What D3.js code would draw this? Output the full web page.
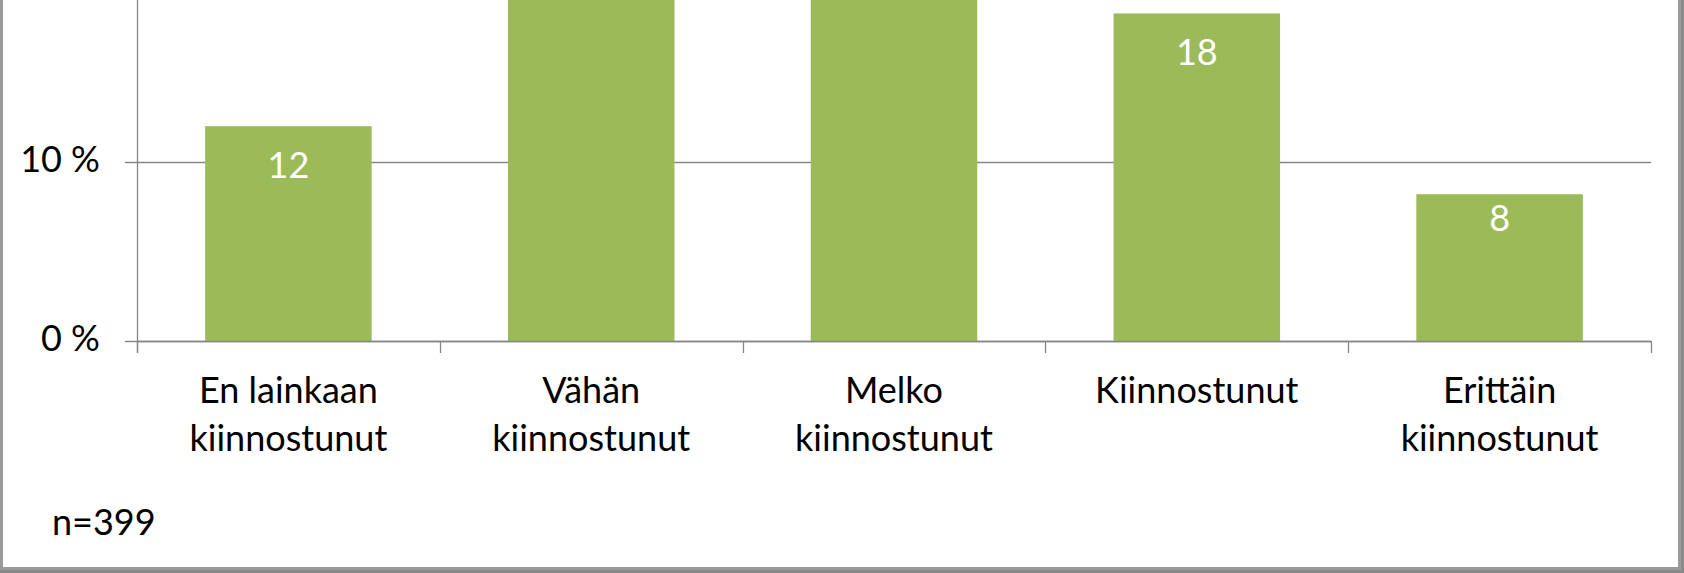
<!DOCTYPE html>
<html>
<head>
<meta charset="utf-8">
<script src="https://cdn.jsdelivr.net/npm/d3@7"></script>
<style>
  html, body { margin: 0; padding: 0; background: #fff; }
  svg { display: block; }
</style>
</head>
<body>
<svg id="chart" width="1684" height="573"></svg>
<script>
// ---- data ----
const categories = ["En lainkaan\nkiinnostunut", "Vähän\nkiinnostunut", "Melko\nkiinnostunut", "Kiinnostunut", "Erittäin\nkiinnostunut"];
const values = [12.0, 30.0, 32.0, 18.3, 8.2];
const valueLabels = ["12", "30", "32", "18", "8"];
const yTicks = [0, 10, 20, 30, 40];
const yTickLabels = ["0 %", "10 %", "20 %", "30 %", "40 %"];
const note = "n=399";

// ---- layout ----
const W = 1684, H = 573;
const svg = d3.select("#chart");
const FONT = "Lato, 'Open Sans', 'Liberation Sans', sans-serif";

const probe = svg.append("text").attr("font-family", FONT).attr("font-size", 36).text("kiinnostunut");
const w36 = probe.node().getComputedTextLength();
probe.remove();
const fs = Math.max(28, Math.min(38, 36 * 198 / w36));

const plot = { left: 137, right: 1651, bottom: 341 };
const pxPerUnit = 17.9;
const x = d3.scaleBand().domain(d3.range(categories.length)).range([plot.left, plot.right]).paddingInner(0.45).paddingOuter(0.225);
const y = d3.scaleLinear().domain([0, 40]).range([plot.bottom, plot.bottom - 40 * pxPerUnit]);

const axisColor = "#868686";
const g = svg.append("g");

// gridlines
g.selectAll("line.grid").data(yTicks).join("line")
  .attr("class", "grid")
  .attr("x1", plot.left - 12).attr("x2", plot.right)
  .attr("y1", d => Math.round(y(d)) + 0.5).attr("y2", d => Math.round(y(d)) + 0.5)
  .attr("stroke", axisColor).attr("stroke-width", 1.3);

// bars
g.selectAll("rect.bar").data(values).join("rect")
  .attr("class", "bar")
  .attr("x", (d, i) => x(i))
  .attr("width", x.bandwidth())
  .attr("y", d => y(d))
  .attr("height", d => y(0) - y(d))
  .attr("fill", "#9BBB59");

// y axis line
g.append("line")
  .attr("x1", plot.left + 0.5).attr("x2", plot.left + 0.5)
  .attr("y1", y(40)).attr("y2", plot.bottom + 12)
  .attr("stroke", axisColor).attr("stroke-width", 1.3);

// x axis line + category boundary ticks
g.append("line")
  .attr("x1", plot.left).attr("x2", plot.right)
  .attr("y1", plot.bottom + 0.5).attr("y2", plot.bottom + 0.5)
  .attr("stroke", axisColor).attr("stroke-width", 1.3);
const boundaries = d3.range(categories.length + 1).map(i => plot.left + i * (plot.right - plot.left) / categories.length);
g.selectAll("line.xtick").data(boundaries).join("line")
  .attr("class", "xtick")
  .attr("x1", d => Math.round(d) + 0.5).attr("x2", d => Math.round(d) + 0.5)
  .attr("y1", plot.bottom).attr("y2", plot.bottom + 12)
  .attr("stroke", axisColor).attr("stroke-width", 1.3);

// y tick labels (only those inside the visible crop)
const tickData = yTicks.map((v, i) => ({ v, label: yTickLabels[i] })).filter(d => y(d.v) - 20 > 0);
g.selectAll("text.ylab").data(tickData).join("text")
  .attr("class", "ylab")
  .attr("x", 100)
  .attr("y", d => y(d.v) + 10)
  .attr("text-anchor", "end")
  .attr("font-family", FONT).attr("font-size", fs)
  .attr("fill", "#000")
  .text(d => d.label);

// category labels
const cl = g.selectAll("text.xlab").data(categories).join("text")
  .attr("class", "xlab")
  .attr("text-anchor", "middle")
  .attr("font-family", FONT).attr("font-size", fs)
  .attr("fill", "#000");
cl.each(function (d, i) {
  const t = d3.select(this);
  d.split("\n").forEach((line, k) => {
    t.append("tspan")
      .attr("x", x(i) + x.bandwidth() / 2)
      .attr("y", 403 + k * 48)
      .text(line);
  });
});

// value labels (inside end, white) — those whose bar top is inside the crop
const labelDy = { 4: 37 };
const vData = values.map((v, i) => ({ v, i, label: valueLabels[i] })).filter(d => y(d.v) > 0);
g.selectAll("text.vlab").data(vData).join("text")
  .attr("class", "vlab")
  .attr("x", d => x(d.i) + x.bandwidth() / 2)
  .attr("y", d => y(d.v) + (labelDy[d.i] || 52))
  .attr("text-anchor", "middle")
  .attr("font-family", FONT).attr("font-size", fs)
  .attr("fill", "#fff")
  .text(d => d.label);

// note
g.append("text")
  .attr("x", 52).attr("y", 535)
  .attr("font-family", FONT).attr("font-size", fs)
  .attr("fill", "#000")
  .text(note);

// outer chart border with shadow
svg.append("rect").attr("x", W - 4).attr("y", 0).attr("width", 4).attr("height", H).attr("fill", "#8a8a8a");
svg.append("rect").attr("x", 0).attr("y", H - 4).attr("width", W).attr("height", 4).attr("fill", "#8a8a8a");
svg.append("path")
  .attr("d", `M1.5,0 V${H - 5 + 0.5} H${W - 5 + 0.5} V0`)
  .attr("fill", "none").attr("stroke", "#9a9a9a").attr("stroke-width", 3);
</script>
</body>
</html>
